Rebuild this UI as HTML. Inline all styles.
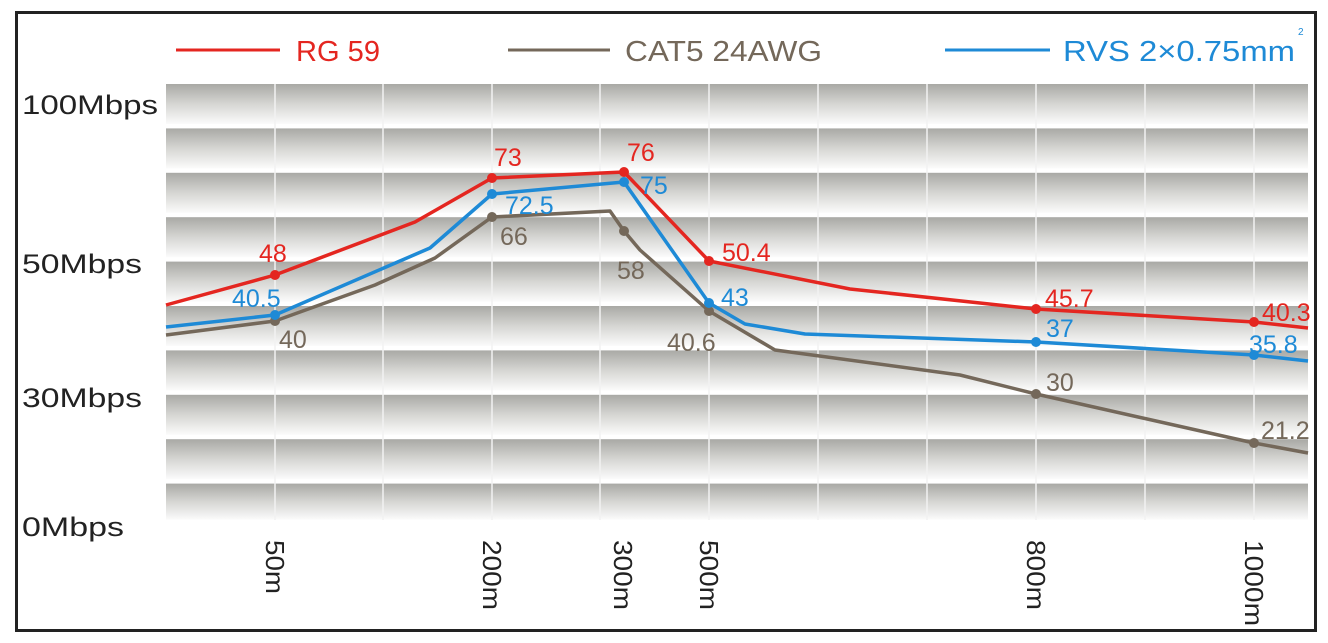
<!DOCTYPE html>
<html><head><meta charset="utf-8"><style>
html,body{margin:0;padding:0;background:#fff;}
svg{display:block;font-family:"Liberation Sans",sans-serif;}
</style></head><body>
<svg width="1328" height="643" viewBox="0 0 1328 643" xmlns="http://www.w3.org/2000/svg">
<defs>
<linearGradient id="g" x1="0" y1="0" x2="0" y2="1">
<stop offset="0" stop-color="#a9a9a5"/>
<stop offset="0.5" stop-color="#d6d6d3"/>
<stop offset="1" stop-color="#fbfbfb"/>
</linearGradient>
</defs>
<rect x="0" y="0" width="1328" height="643" fill="#fff"/>
<rect x="16.5" y="12.5" width="1299" height="618" fill="#fff" stroke="#222" stroke-width="3"/>
<g>
<rect x="166" y="84" width="1142" height="40" fill="url(#g)"/>
<rect x="166" y="128.4" width="1142" height="40" fill="url(#g)"/>
<rect x="166" y="172.8" width="1142" height="40" fill="url(#g)"/>
<rect x="166" y="217.2" width="1142" height="40" fill="url(#g)"/>
<rect x="166" y="261.6" width="1142" height="40" fill="url(#g)"/>
<rect x="166" y="306" width="1142" height="40" fill="url(#g)"/>
<rect x="166" y="350.4" width="1142" height="40" fill="url(#g)"/>
<rect x="166" y="394.8" width="1142" height="40" fill="url(#g)"/>
<rect x="166" y="439.2" width="1142" height="40" fill="url(#g)"/>
<rect x="166" y="483.6" width="1142" height="36" fill="url(#g)"/>
</g>
<g stroke="#f2f2f2" stroke-width="1.5">
<line x1="275" y1="84" x2="275" y2="520"/><line x1="383" y1="84" x2="383" y2="520"/>
<line x1="492" y1="84" x2="492" y2="520"/><line x1="600" y1="84" x2="600" y2="520"/>
<line x1="709" y1="84" x2="709" y2="520"/><line x1="818" y1="84" x2="818" y2="520"/>
<line x1="927" y1="84" x2="927" y2="520"/><line x1="1036" y1="84" x2="1036" y2="520"/>
<line x1="1145" y1="84" x2="1145" y2="520"/><line x1="1254" y1="84" x2="1254" y2="520"/>
</g>
<!-- legend -->
<line x1="176" y1="50" x2="280" y2="50" stroke="#e42620" stroke-width="3"/>
<text x="296" y="61" font-size="29" fill="#e42620" textLength="84" lengthAdjust="spacingAndGlyphs">RG 59</text>
<line x1="508" y1="50" x2="610" y2="50" stroke="#74685a" stroke-width="3"/>
<text x="625" y="61" font-size="29" fill="#74685a" textLength="197" lengthAdjust="spacingAndGlyphs">CAT5 24AWG</text>
<line x1="945" y1="50" x2="1050" y2="50" stroke="#1e8ad6" stroke-width="3"/>
<text x="1063" y="61" font-size="29" fill="#1e8ad6" textLength="232" lengthAdjust="spacingAndGlyphs">RVS 2×0.75mm</text>
<text x="1298" y="35" font-size="10" fill="#1e8ad6">2</text>
<!-- y labels -->
<g font-size="27" fill="#222">
<text x="22" y="114" textLength="136" lengthAdjust="spacingAndGlyphs">100Mbps</text>
<text x="22" y="273" textLength="120" lengthAdjust="spacingAndGlyphs">50Mbps</text>
<text x="22" y="407" textLength="120" lengthAdjust="spacingAndGlyphs">30Mbps</text>
<text x="22" y="536" textLength="102" lengthAdjust="spacingAndGlyphs">0Mbps</text>
</g>
<!-- x labels -->
<g font-size="26" fill="#222">
<text transform="translate(266,540) rotate(90)" textLength="54" lengthAdjust="spacingAndGlyphs">50m</text>
<text transform="translate(483,540) rotate(90)" textLength="70" lengthAdjust="spacingAndGlyphs">200m</text>
<text transform="translate(614,540) rotate(90)" textLength="70" lengthAdjust="spacingAndGlyphs">300m</text>
<text transform="translate(700,540) rotate(90)" textLength="70" lengthAdjust="spacingAndGlyphs">500m</text>
<text transform="translate(1027,540) rotate(90)" textLength="70" lengthAdjust="spacingAndGlyphs">800m</text>
<text transform="translate(1245,540) rotate(90)" textLength="86" lengthAdjust="spacingAndGlyphs">1000m</text>
</g>
<!-- series -->
<g fill="none" stroke-width="3.5" stroke-linejoin="round">
<polyline stroke="#74685a" points="166,335 275,321 375,285 435,258 492,217 610,211 624,231 640,250 709,311 775,350 960,375 1036,394 1254,443 1308,453"/>
<polyline stroke="#1e8ad6" points="166,327 275,315 430,248 492,194 624,182 709,303 745,324 805,334 1036,342 1254,355 1308,361"/>
<polyline stroke="#e42620" points="166,305 275,275 415,222 492,178 624,172 709,261 850,289 1036,309 1254,322 1308,328"/>
</g>
<g fill="#74685a"><circle cx="275" cy="321" r="5"/><circle cx="492" cy="217" r="5"/><circle cx="624" cy="231" r="5"/><circle cx="709" cy="311" r="5"/><circle cx="1036" cy="394" r="5"/><circle cx="1254" cy="443" r="5"/></g>
<g fill="#1e8ad6"><circle cx="275" cy="315" r="5"/><circle cx="492" cy="194" r="5"/><circle cx="624" cy="182" r="5"/><circle cx="709" cy="303" r="5"/><circle cx="1036" cy="342" r="5"/><circle cx="1254" cy="355" r="5"/></g>
<g fill="#e42620"><circle cx="275" cy="275" r="5"/><circle cx="492" cy="178" r="5"/><circle cx="624" cy="172" r="5"/><circle cx="709" cy="261" r="5"/><circle cx="1036" cy="309" r="5"/><circle cx="1254" cy="322" r="5"/></g>
<!-- value labels -->
<g font-size="25" fill="#e42620">
<text x="259" y="262">48</text><text x="494" y="166">73</text><text x="627" y="161">76</text>
<text x="722" y="261">50.4</text><text x="1045" y="307">45.7</text><text x="1262" y="321">40.3</text>
</g>
<g font-size="25" fill="#1e8ad6">
<text x="232" y="307">40.5</text><text x="505" y="214">72.5</text><text x="640" y="194">75</text>
<text x="721" y="306">43</text><text x="1046" y="337">37</text><text x="1249" y="353">35.8</text>
</g>
<g font-size="25" fill="#74685a">
<text x="279" y="348">40</text><text x="500" y="245">66</text><text x="617" y="279">58</text>
<text x="667" y="351">40.6</text><text x="1046" y="391">30</text><text x="1261" y="439">21.2</text>
</g>
</svg>
</body></html>
